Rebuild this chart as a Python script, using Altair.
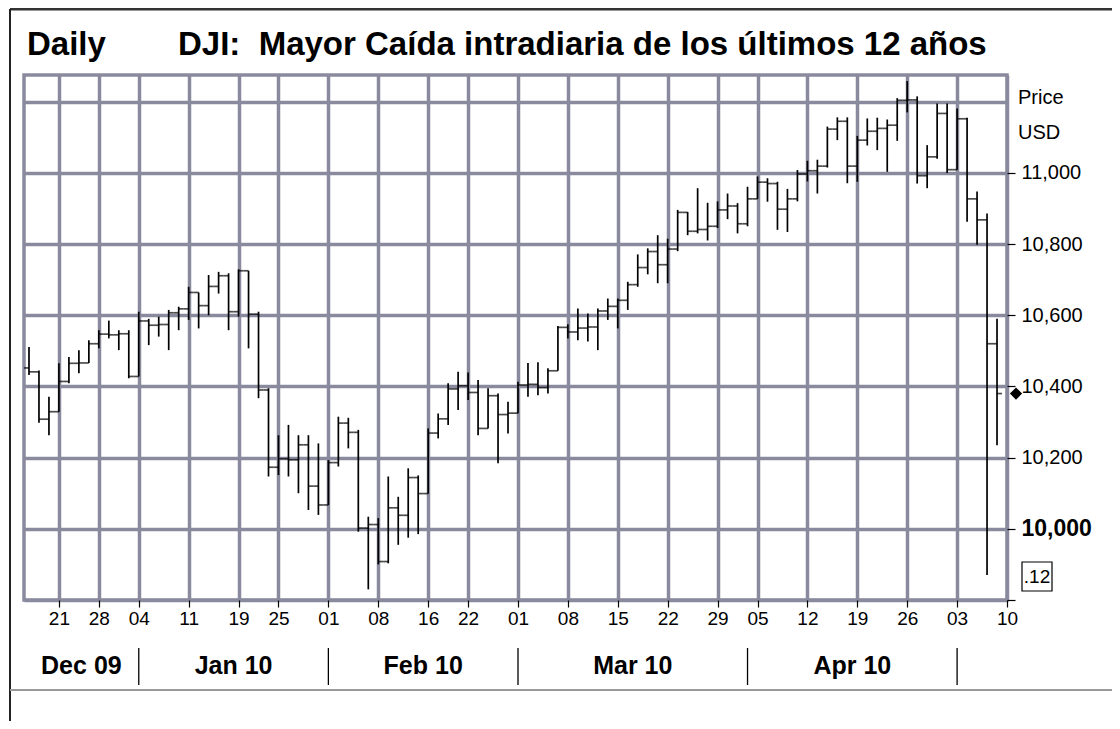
import json
import altair as alt
import pandas as pd

# ---------------- data ----------------
dates = [
    "2009-12-16", "2009-12-17", "2009-12-18", "2009-12-21", "2009-12-22", "2009-12-23", "2009-12-24",
    "2009-12-28", "2009-12-29", "2009-12-30", "2009-12-31",
    "2010-01-04", "2010-01-05", "2010-01-06", "2010-01-07", "2010-01-08", "2010-01-11", "2010-01-12",
    "2010-01-13", "2010-01-14", "2010-01-15", "2010-01-19", "2010-01-20", "2010-01-21", "2010-01-22",
    "2010-01-25", "2010-01-26", "2010-01-27", "2010-01-28", "2010-01-29",
    "2010-02-01", "2010-02-02", "2010-02-03", "2010-02-04", "2010-02-05", "2010-02-08", "2010-02-09",
    "2010-02-10", "2010-02-11", "2010-02-12", "2010-02-16", "2010-02-17", "2010-02-18", "2010-02-19",
    "2010-02-22", "2010-02-23", "2010-02-24", "2010-02-25", "2010-02-26",
    "2010-03-01", "2010-03-02", "2010-03-03", "2010-03-04", "2010-03-05", "2010-03-08", "2010-03-09",
    "2010-03-10", "2010-03-11", "2010-03-12", "2010-03-15", "2010-03-16", "2010-03-17", "2010-03-18",
    "2010-03-19", "2010-03-22", "2010-03-23", "2010-03-24", "2010-03-25", "2010-03-26", "2010-03-29",
    "2010-03-30", "2010-03-31",
    "2010-04-01", "2010-04-05", "2010-04-06", "2010-04-07", "2010-04-08", "2010-04-09", "2010-04-12",
    "2010-04-13", "2010-04-14", "2010-04-15", "2010-04-16", "2010-04-19", "2010-04-20", "2010-04-21",
    "2010-04-22", "2010-04-23", "2010-04-26", "2010-04-27", "2010-04-28", "2010-04-29", "2010-04-30",
    "2010-05-03", "2010-05-04", "2010-05-05", "2010-05-06", "2010-05-07",
]
opens = [
    10452, 10441, 10308, 10329, 10414, 10465, 10466, 10520, 10547, 10545, 10548,
    10428, 10584, 10572, 10574, 10607, 10618, 10664, 10627, 10681, 10711, 10610, 10725, 10603, 10390,
    10173, 10197, 10194, 10236, 10120,
    10067, 10186, 10297, 10271, 10002, 10012, 9908, 10059, 10038, 10144, 10099, 10269, 10309, 10393,
    10402, 10383, 10282, 10374, 10321,
    10325, 10404, 10406, 10397, 10444, 10566, 10553, 10564, 10567, 10612, 10625, 10642, 10686, 10734,
    10779, 10742, 10786, 10889, 10836, 10841, 10850, 10896, 10907,
    10857, 10927, 10974, 10970, 10898, 10927, 10997, 11006, 11019, 11123, 11145, 11019, 11092, 11117,
    11125, 11134, 11204, 11205, 10992, 11045, 11167,
    11009, 11152, 10927, 10868, 10520,
]
highs = [
    10511, 10445, 10371, 10465, 10483, 10502, 10530, 10558, 10585, 10558, 10558,
    10610, 10590, 10596, 10615, 10624, 10680, 10664, 10713, 10722, 10718, 10729, 10725, 10610, 10395,
    10263, 10292, 10263, 10263, 10240,
    10193, 10315, 10312, 10278, 10034, 10030, 10147, 10090, 10170, 10150, 10282, 10324, 10409, 10441,
    10439, 10418, 10395, 10380, 10357,
    10413, 10466, 10468, 10451, 10570, 10575, 10619, 10605, 10619, 10647, 10647, 10694, 10771, 10788,
    10825, 10815, 10896, 10890, 10957, 10916, 10920, 10942, 10915,
    10961, 10990, 10985, 10975, 10955, 11008, 11034, 11037, 11130, 11156, 11156, 11104, 11153, 11155,
    11150, 11210, 11258, 11215, 11078, 11195, 11195,
    11181, 11155, 10948, 10886, 10590,
]
lows = [
    10432, 10298, 10263, 10329, 10409, 10437, 10466, 10507, 10535, 10502, 10423,
    10428, 10516, 10540, 10502, 10558, 10587, 10563, 10600, 10661, 10558, 10596, 10507, 10367, 10147,
    10151, 10147, 10100, 10053, 10039,
    10067, 10175, 10226, 9992, 9830, 9900, 9903, 9955, 9975, 9985, 10099, 10254, 10292, 10334,
    10362, 10263, 10282, 10184, 10268,
    10325, 10371, 10375, 10380, 10444, 10535, 10530, 10526, 10502, 10587, 10563, 10615, 10680, 10715,
    10690, 10690, 10780, 10825, 10830, 10810, 10845, 10870, 10830,
    10850, 10927, 10919, 10840, 10834, 10920, 10976, 10942, 11015, 11092, 10971, 10975, 11077, 11064,
    11003, 11090, 11170, 10970, 10957, 11040, 11000,
    11009, 10863, 10798, 9870, 10235,
]
closes = [
    10441, 10308, 10329, 10414, 10465, 10466, 10520, 10547, 10545, 10548, 10428,
    10584, 10572, 10574, 10607, 10618, 10664, 10627, 10681, 10711, 10610, 10725, 10603, 10390, 10173,
    10197, 10194, 10236, 10120, 10067,
    10186, 10297, 10271, 10002, 10012, 9908, 10059, 10038, 10144, 10099, 10269, 10309, 10393, 10402,
    10383, 10282, 10374, 10321, 10325,
    10404, 10406, 10397, 10444, 10566, 10553, 10564, 10567, 10612, 10625, 10642, 10686, 10734, 10779,
    10742, 10786, 10889, 10836, 10841, 10850, 10896, 10907, 10857,
    10927, 10974, 10970, 10898, 10927, 10997, 11006, 11019, 11123, 11145, 11019, 11092, 11117, 11125,
    11134, 11204, 11205, 10992, 11045, 11167, 11009,
    11152, 10927, 10868, 10520, 10380,
]

tick_dates = [
    "2009-12-21", "2009-12-28", "2010-01-04", "2010-01-11", "2010-01-19", "2010-01-25", "2010-02-01",
    "2010-02-08", "2010-02-16", "2010-02-22", "2010-03-01", "2010-03-08", "2010-03-15", "2010-03-22",
    "2010-03-29", "2010-04-05", "2010-04-12", "2010-04-19", "2010-04-26", "2010-05-03", "2010-05-10",
]
month_names = ["Dec 09", "Jan 10", "Feb 10", "Mar 10", "Apr 10"]
price_ticks = [9800, 10000, 10200, 10400, 10600, 10800, 11000, 11200]

title_left = "Daily"
title_main = "DJI:\u00a0 Mayor Caída intradiaria de los últimos 12 años"

# ---------------- derived tables ----------------
n = len(dates)
df = pd.DataFrame({"i": list(range(n)), "date": dates, "open": opens, "high": highs,
                   "low": lows, "close": closes})

tick_idx = [dates.index(d) if d in dates else n for d in tick_dates]
tick_lab = [d[-2:] for d in tick_dates]

# first trading day of each new month -> separators
sep_idx = [k for k in range(1, n) if dates[k][:7] != dates[k - 1][:7]]
bounds = [-0.5] + sep_idx
month_df = pd.DataFrame({"name": month_names,
                         "c": [(bounds[k] + bounds[k + 1]) / 2 for k in range(len(month_names))]})
sep_df = pd.DataFrame({"i": sep_idx})
last_df = df.tail(1)

# ---------------- styling ----------------
W, H = 983, 525
GRID = "#8a8a9e"
FONT = "Liberation Sans"

label_expr_x = f"{json.dumps(tick_lab)}[indexof({json.dumps(tick_idx)}, datum.value)]"

xscale = alt.Scale(domain=[-0.5, n], nice=False, zero=False)
yscale = alt.Scale(domain=[9800, 11275], nice=False, zero=False)

x_axis = alt.Axis(values=tick_idx, labelExpr=label_expr_x, grid=True, gridColor=GRID, gridWidth=3.5,
                  gridOpacity=1, domain=False, ticks=True, tickColor="black", tickSize=7, tickWidth=1.2,
                  labelFont=FONT, labelFontSize=19, labelColor="black", labelPadding=2, title=None,
                  labelOverlap=False, labelFlush=False)
y_axis = alt.Axis(orient="right", values=price_ticks,
                  labelExpr="(datum.value == 9800 || datum.value == 11200) ? '' : format(datum.value, ',')",
                  grid=True, gridColor=GRID, gridWidth=3.5, gridOpacity=1, domain=False,
                  tickColor="black", tickSize=8, tickWidth=1.2,
                  tickOpacity={"condition": {"test": "datum.value == 11200", "value": 0}, "value": 1},
                  labelFont=FONT, labelColor="black", labelPadding=6,
                  labelFontSize={"condition": {"test": "datum.value == 10000", "value": 23}, "value": 20},
                  labelFontWeight={"condition": {"test": "datum.value == 10000", "value": "bold"},
                                   "value": "normal"},
                  labelOverlap=False, title=None)

base = alt.Chart(df)

hl = base.mark_rule(color="black", strokeWidth=1.7).encode(
    x=alt.X("i:Q", scale=xscale, axis=x_axis),
    y=alt.Y("low:Q", scale=yscale, axis=y_axis),
    y2="high:Q",
)
op = base.mark_tick(color="black", orient="horizontal", size=5, thickness=1.7, xOffset=-2.5).encode(
    x="i:Q", y="open:Q")
cl = base.mark_tick(color="black", orient="horizontal", size=5, thickness=1.7, xOffset=2.5).encode(
    x="i:Q", y="close:Q")

diamond = alt.Chart(last_df).mark_point(shape="diamond", filled=True, color="black", size=150,
                                        opacity=1).encode(x=alt.value(W + 9), y="close:Q")

seps = alt.Chart(sep_df).mark_rule(color="black", strokeWidth=1.3).encode(
    x="i:Q", y=alt.value(H + 48), y2=alt.value(H + 85))
months = alt.Chart(month_df).mark_text(font=FONT, fontSize=25, fontWeight="bold", color="black",
                                       baseline="middle", align="center").encode(
    x="c:Q", y=alt.value(H + 66), text="name:N")


def label(txt, xp, yp, size, weight="normal", align="left"):
    return alt.Chart(pd.DataFrame({"t": [txt]})).mark_text(
        font=FONT, fontSize=size, fontWeight=weight, color="black", align=align, baseline="middle"
    ).encode(x=alt.value(xp), y=alt.value(yp), text="t:N")


t1 = label(title_left, 3, -30, 33, "bold")
t2 = label(title_main, 154, -30, 33, "bold")
p1 = label("Price", W + 11, 23, 20)
p2 = label("USD", W + 11, 58, 20)
box = alt.Chart(pd.DataFrame({"t": [".12"]})).mark_rect(fill="white", stroke="black", strokeWidth=1.2).encode(
    x=alt.value(W + 15), x2=alt.value(W + 45), y=alt.value(H - 38), y2=alt.value(H - 9))
box_t = label(".12", W + 30, H - 23, 19, align="center")

frame_top = alt.Chart(pd.DataFrame({"t": [0]})).mark_rule(color="#333333", strokeWidth=3).encode(
    x=alt.value(-14), x2=alt.value(1100), y=alt.value(-66))
frame_left = alt.Chart(pd.DataFrame({"t": [0]})).mark_rule(color="#222222", strokeWidth=2).encode(
    x=alt.value(-14), y=alt.value(-66), y2=alt.value(660))
frame_bot = alt.Chart(pd.DataFrame({"t": [0]})).mark_rule(color="#9a9a9a", strokeWidth=2).encode(
    x=alt.value(-14), x2=alt.value(1100), y=alt.value(H + 90))

chart = alt.layer(
    hl, op, cl, diamond, seps, months, t1, t2, p1, p2, box, box_t, frame_top, frame_left, frame_bot
).properties(
    width=W, height=H,
    autosize=alt.AutoSizeParams(type="none"),
    padding={"left": 16, "top": 67, "right": 105, "bottom": 121},
    background="white",
).configure_view(stroke=GRID, strokeWidth=3.5)

chart.save("out.html", embed_options={"renderer": "svg", "actions": False})
